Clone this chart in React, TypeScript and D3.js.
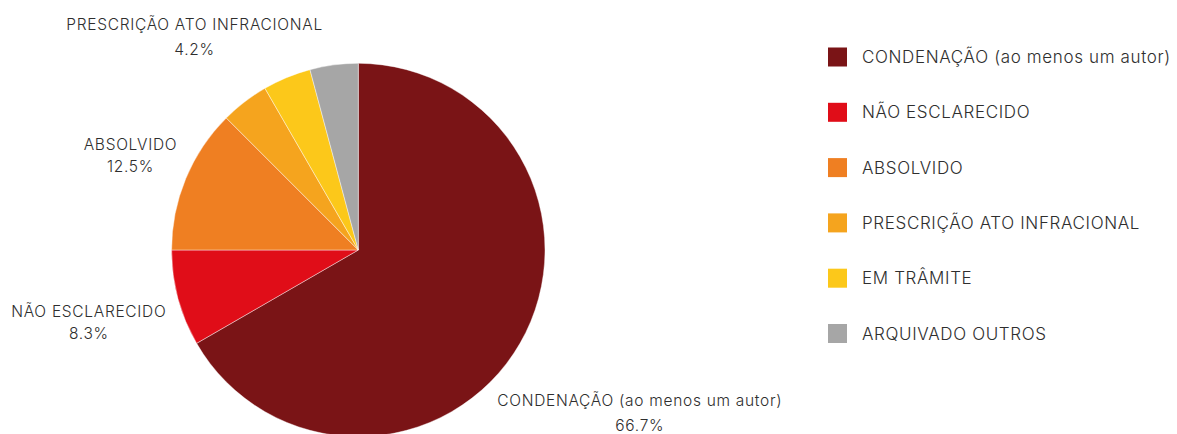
import React from "react";
import * as d3 from "d3";

const categories = [
  "CONDENAÇÃO (ao menos um autor)",
  "NÃO ESCLARECIDO",
  "ABSOLVIDO",
  "PRESCRIÇÃO ATO INFRACIONAL",
  "EM TRÂMITE",
  "ARQUIVADO OUTROS",
];
const values = [16, 2, 3, 1, 1, 1];
const percentLabels = ["66.7%", "8.3%", "12.5%", "4.2%", "4.2%", "4.2%"];
const showLabel = [true, true, true, true, false, false];
const colors = ["#7a1416", "#e00d18", "#ef7f22", "#f5a41e", "#fcc81a", "#a6a6a6"];

// layout
const W = 1177;
const H = 434;
const CX = 358.3;
const CY = 250;
const R = 186.7;
// distance of each label's centre from pie centre, along slice mid-angle
const labelDist = [325, 279, 246.6, 269, 0, 0];
const lineGap = [25, 22, 22, 25, 22, 22];
const FONT = "Inter, 'Noto Sans', sans-serif";
const TEXT = "#2e2e2e";

export default function App() {
  const pie = d3.pie<number>().value((d) => d).sort(null);
  const arcs = pie(values);
  const arcGen = d3.arc<d3.PieArcDatum<number>>().innerRadius(0).outerRadius(R);

  const legendX = 828;
  const legendY0 = 57;
  const legendStep = 55.3;

  return (
    <svg width={W} height={H} style={{ position: "absolute", left: 0, top: 0 }}>
      <rect width={W} height={H} fill="#ffffff" />
      <g transform={`translate(${CX},${CY})`}>
        {arcs.map((a, i) => (
          <path key={i} d={arcGen(a) || ""} fill={colors[i]} stroke="#ffffff" strokeWidth={0.6} strokeOpacity={0.7} />
        ))}
        {arcs.map((a, i) => {
          if (!showLabel[i]) return null;
          const mid = (a.startAngle + a.endAngle) / 2;
          const x = Math.sin(mid) * labelDist[i];
          const y = -Math.cos(mid) * labelDist[i];
          const g = lineGap[i];
          return (
            <g key={"l" + i} fontFamily={FONT} fontSize={15.5} fontWeight={300} letterSpacing={0.7} fill={TEXT} textAnchor="middle">
              <text x={x} y={y - g / 2 + 5.5}>{categories[i]}</text>
              <text x={x} y={y + g / 2 + 5.5}>{percentLabels[i]}</text>
            </g>
          );
        })}
      </g>
      <g fontFamily={FONT} fontSize={17} fontWeight={300} letterSpacing={0.64} fill={TEXT}>
        {categories.map((c, i) => (
          <g key={"lg" + i} transform={`translate(${legendX},${legendY0 + i * legendStep})`}>
            <rect x={0} y={-9.5} width={19} height={19} fill={colors[i]} />
            <text x={34} y={6}>{c}</text>
          </g>
        ))}
      </g>
    </svg>
  );
}
